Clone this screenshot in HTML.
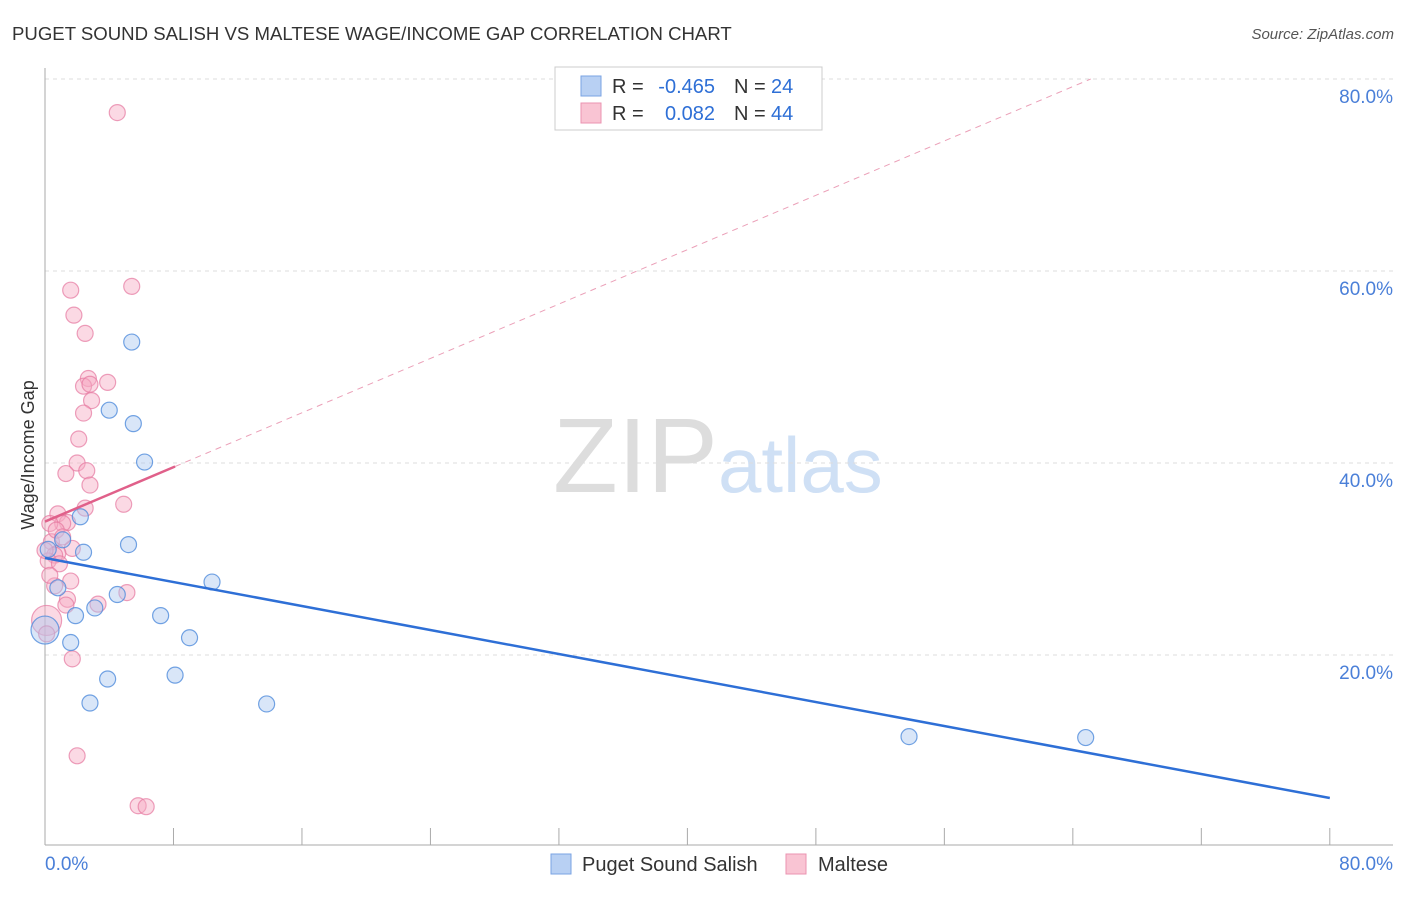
<!DOCTYPE html>
<html><head><meta charset="utf-8"><style>
body{margin:0;background:#fff;font-family:"Liberation Sans",sans-serif}
svg text{font-family:"Liberation Sans",sans-serif}
</style></head><body>
<svg id="c" width="1406" height="892" xmlns="http://www.w3.org/2000/svg">
<text x="12" y="40" font-size="18.6" fill="#333">PUGET SOUND SALISH VS MALTESE WAGE/INCOME GAP CORRELATION CHART</text>
<text x="1394" y="39" font-size="15" fill="#555" text-anchor="end" font-style="italic">Source: ZipAtlas.com</text>
<text x="34" y="455" font-size="18" fill="#333" text-anchor="middle" transform="rotate(-90 34 455)">Wage/Income Gap</text>
<text x="553" y="492" font-size="106" fill="#ddd" font-family="Liberation Serif">ZIP</text>
<text x="718" y="492" font-size="78" fill="#cfe0f5">atlas</text>
<g id="grid"></g><g id="pts"></g><g id="lines"></g>
<g>
<rect x="555" y="67" width="267" height="63" fill="#fff" stroke="#ccc"/>
<rect x="581" y="76" width="20" height="20" fill="#b8d0f3" stroke="#7aa3e3"/>
<rect x="581" y="103" width="20" height="20" fill="#f9c4d3" stroke="#eb93b0"/>
<text x="612" y="93" font-size="20" fill="#333">R =</text>
<text x="715" y="93" font-size="20" fill="#2e6fd6" text-anchor="end">-0.465</text>
<text x="734" y="93" font-size="20" fill="#333">N =</text>
<text x="771" y="93" font-size="20" fill="#2e6fd6">24</text>
<text x="612" y="120" font-size="20" fill="#333">R =</text>
<text x="715" y="120" font-size="20" fill="#2e6fd6" text-anchor="end">0.082</text>
<text x="734" y="120" font-size="20" fill="#333">N =</text>
<text x="771" y="120" font-size="20" fill="#2e6fd6">44</text>
</g>
<g>
<rect x="551" y="854" width="20" height="20" fill="#b8d0f3" stroke="#7aa3e3"/>
<text x="582" y="871" font-size="20" fill="#333">Puget Sound Salish</text>
<rect x="786" y="854" width="20" height="20" fill="#f9c4d3" stroke="#eb93b0"/>
<text x="818" y="871" font-size="20" fill="#333">Maltese</text>
</g>
</svg>
<script>
const yTicks=[20,40,60,80];
const yTickLabels=["20.0%","40.0%","60.0%","80.0%"];
const xTicks=[0,8,16,24,32,40,48,56,64,72,80];
const blueX=[5.4,4.0,5.5,6.2,2.2,0.2,1.1,2.4,5.2,0.8,4.5,3.1,1.9,7.2,10.4,9.0,1.6,0.0,3.9,8.1,2.8,13.8,53.8,64.8];
const blueY=[52.6,45.5,44.1,40.1,34.4,31.0,32.0,30.7,31.5,27.0,26.3,24.9,24.1,24.1,27.6,21.8,21.3,22.6,17.5,17.9,15.0,14.9,11.5,11.4];
const pinkX=[4.5,1.6,5.4,1.8,2.5,2.7,2.4,2.8,3.9,2.9,2.4,2.1,2.0,2.6,1.3,2.8,4.9,2.5,0.8,1.4,1.1,0.3,0.4,1.7,0.8,0.6,0.2,0.9,0.0,0.6,1.6,1.4,1.3,3.3,5.1,0.1,1.7,2.0,5.8,6.3,0.3,0.7,1.1,0.1];
const pinkY=[76.5,58.0,58.4,55.4,53.5,48.8,48.0,48.2,48.4,46.5,45.2,42.5,40.0,39.2,38.9,37.7,35.7,35.3,34.7,33.8,33.7,33.7,31.8,31.1,30.6,30.4,29.8,29.5,30.9,27.2,27.7,25.8,25.2,25.3,26.5,23.6,19.6,9.5,4.3,4.2,28.3,33.0,32.3,22.2];
const pinkR=[8,8,8,8,8,8,8,8,8,8,8,8,8,8,8,8,8,8,8,8,8,8,8,8,8,8,8,8,8,8,8,8,8,8,8,15,8,8,8,8,8,8,8,8];
const blueR=[8,8,8,8,8,8,8,8,8,8,8,8,8,8,8,8,8,14,8,8,8,8,8,8];
const blueTrend=[30.1,-0.3125];
const pinkTrend=[33.9,0.708];
const pinkSolidEnd=8.1;
const ns="http://www.w3.org/2000/svg";
const X=v=>45+v*16.06, Y=v=>847-v*9.6;
function mk(t,a,p){const e=document.createElementNS(ns,t);for(const k in a)e.setAttribute(k,a[k]);p.appendChild(e);return e;}
const g=document.getElementById('grid');
yTicks.forEach((t,i)=>{const l=mk('line',{x1:45,x2:1393,y1:Y(t),y2:Y(t),stroke:'#ddd','stroke-dasharray':'4 4'},g);

const tx=mk('text',{x:1393,y:Y(t)+24,'font-size':19,fill:'#4a7fd8','text-anchor':'end'},g);tx.textContent=yTickLabels[i];
});
const ax=mk('line',{x1:45,x2:45,y1:68,y2:845,stroke:'#aaa'},g);
const bx=mk('line',{x1:45,x2:1393,y1:845,y2:845,stroke:'#aaa'},g);
xTicks.forEach(t=>{const l=mk('line',{x1:X(t),x2:X(t),y1:828,y2:845,stroke:'#aaa'},g);});
[[0,"0.0%","start"],[80,"80.0%","end"]].forEach(([v,s,a])=>{const tx=mk('text',{x:v?1393:45,y:870,'font-size':19,fill:'#4a7fd8','text-anchor':a},g);tx.textContent=s;});
const p=document.getElementById('pts');
pinkX.forEach((v,i)=>{const c=mk('circle',{cx:X(v),cy:Y(pinkY[i]),r:pinkR[i],fill:'rgba(246,170,195,0.45)',stroke:'rgba(230,120,160,0.7)','stroke-width':1.2},p);
});
blueX.forEach((v,i)=>{const c=mk('circle',{cx:X(v),cy:Y(blueY[i]),r:blueR[i],fill:'rgba(170,200,240,0.45)',stroke:'rgba(80,140,220,0.8)','stroke-width':1.2},p);
});
const L=document.getElementById('lines');
const bl=mk('line',{x1:X(0),y1:Y(blueTrend[0]),x2:X(80),y2:Y(blueTrend[0]+80*blueTrend[1]),stroke:'#2e6fd6','stroke-width':2.5},L);

const xe=(80-pinkTrend[0])/pinkTrend[1];
const pd=mk('line',{x1:X(pinkSolidEnd),y1:Y(pinkTrend[0]+pinkSolidEnd*pinkTrend[1]),x2:X(xe),y2:Y(80),stroke:'#eba0b8','stroke-width':1,'stroke-dasharray':'6 5'},L);

const ps=mk('line',{x1:X(0),y1:Y(pinkTrend[0]),x2:X(pinkSolidEnd),y2:Y(pinkTrend[0]+pinkSolidEnd*pinkTrend[1]),stroke:'#e0608a','stroke-width':2.5},L);

</script>
</body></html>
